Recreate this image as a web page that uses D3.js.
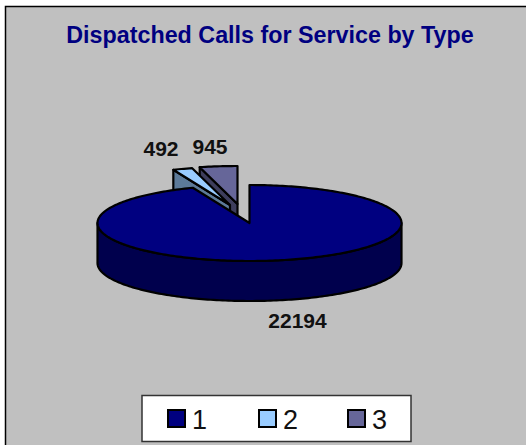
<!DOCTYPE html>
<html><head><meta charset="utf-8">
<script src="https://cdn.jsdelivr.net/npm/d3@7"></script>
<style>html,body{margin:0;padding:0;background:#fff}svg{display:block}text{font-family:"Liberation Sans",Arial,sans-serif}</style>
</head><body><div id="c"></div>
<script>
const categories = ["1","2","3"];
const values = [22194,492,945];
const titleText = "Dispatched Calls for Service by Type";
const topColors = ["#000080","#99CCFF","#666699"];
const sideColors = ["#00004D","#5C7A99","#3D3D5C"];
const W=526,H=445;
const cx=249.5,cy=223,rx=152,ry=38,depth=40;
const offsets=[[0,0],[-19.5,-18],[-12,-19]];
const labelPos=[[297.5,328],[161,156],[210,154]];
const legendX=[167,258,347];

const svg=d3.select("#c").append("svg").attr("width",W).attr("height",H);
svg.append("rect").attr("x",5.5).attr("y",6.5).attr("width",W).attr("height",H).attr("fill","#C0C0C0").attr("stroke","#000").attr("stroke-width",1.5);
svg.append("text").attr("x",270).attr("y",43).attr("text-anchor","middle").attr("font-size",23.3).attr("font-weight","bold").attr("fill","#000080").text(titleText);

const pie=d3.pie().sort(null)(values);
const px=d3.scaleLinear().domain([-1,1]).range([cx-rx,cx+rx]);
const py=d3.scaleLinear().domain([-1,1]).range([cy-ry,cy+ry]);
const pt=(a,o,dz=0)=>[px(Math.sin(a))+o[0],py(-Math.cos(a))+o[1]+dz];
const arcPts=(a0,a1,o,dz=0)=>{const n=Math.max(2,Math.ceil(Math.abs(a1-a0)/0.02));return d3.range(n+1).map(i=>pt(a0+(a1-a0)*i/n,o,dz));};
const line=d3.line();
const stroke=p=>p.attr("stroke","#000").attr("stroke-width",2.2).attr("stroke-linejoin","round");
const center=(o,dz=0)=>[cx+o[0],cy+o[1]+dz];

function drawSlice(i){
  const s=pie[i],o=offsets[i];
  const g=svg.append("g");
  if(i>0){
    const wall=[center(o),center(o,depth),pt(s.startAngle,o,depth),pt(s.startAngle,o)];
    stroke(g.append("path").attr("d",line(wall)+"Z").attr("fill",sideColors[i]));
  } else {
    const front=arcPts(Math.PI/2,3*Math.PI/2,o).concat(arcPts(3*Math.PI/2,Math.PI/2,o,depth));
    stroke(g.append("path").attr("d",line(front)+"Z").attr("fill",sideColors[i]));
  }
  const top=[center(o)].concat(arcPts(s.startAngle,s.endAngle,o));
  stroke(g.append("path").attr("d",line(top)+"Z").attr("fill",topColors[i]));
}
[2,1,0].forEach(drawSlice);

values.forEach((v,i)=>svg.append("text").attr("x",labelPos[i][0]).attr("y",labelPos[i][1]).attr("text-anchor","middle").attr("font-size",21).attr("font-weight","bold").attr("fill","#111").text(v));

svg.append("rect").attr("x",142).attr("y",395.5).attr("width",269).attr("height",46).attr("fill","#fff").attr("stroke","#333").attr("stroke-width",1.5);
categories.forEach((c,i)=>{
  svg.append("rect").attr("x",legendX[i]+1).attr("y",410).attr("width",17).attr("height",17).attr("fill",topColors[i]).attr("stroke","#000").attr("stroke-width",2);
  svg.append("text").attr("x",legendX[i]+25).attr("y",429).attr("font-size",27).attr("fill","#111").text(c);
});
</script></body></html>
